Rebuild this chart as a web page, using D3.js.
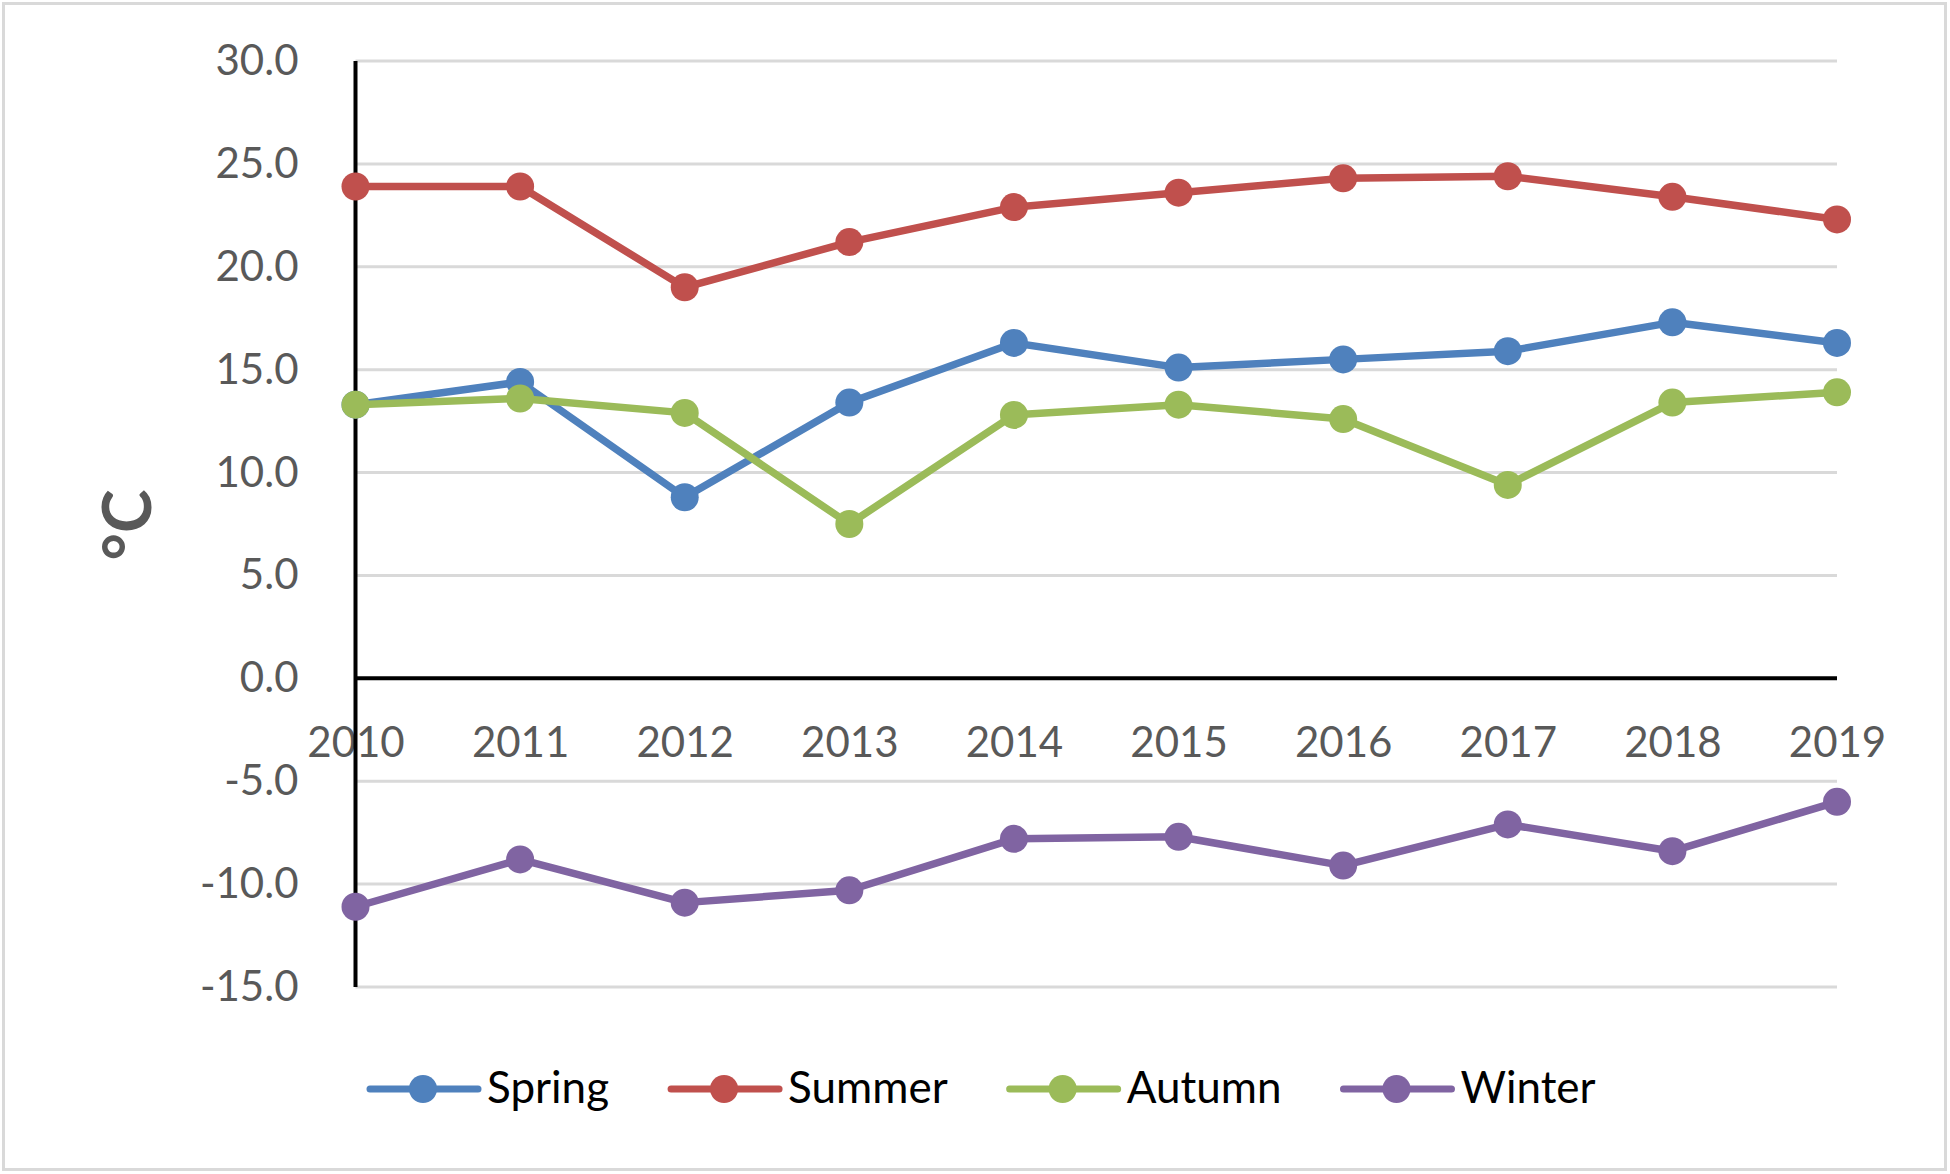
<!DOCTYPE html>
<html>
<head>
<meta charset="utf-8">
<script src="https://cdn.jsdelivr.net/npm/d3@7"></script>
<style>
  body { margin: 0; background: #fff; }
  svg { display: block; }
</style>
</head>
<body>
<svg id="chart" width="1950" height="1174"></svg>
<script>
// data
var years = [2010, 2011, 2012, 2013, 2014, 2015, 2016, 2017, 2018, 2019];
var spring = [13.3, 14.4, 8.8, 13.4, 16.3, 15.1, 15.5, 15.9, 17.3, 16.3];
var summer = [23.9, 23.9, 19.0, 21.2, 22.9, 23.6, 24.3, 24.4, 23.4, 22.3];
var autumn = [13.3, 13.6, 12.9, 7.5, 12.8, 13.3, 12.6, 9.4, 13.4, 13.9];
var winter = [-11.1, -8.8, -10.9, -10.3, -7.8, -7.7, -9.1, -7.1, -8.4, -6.0];
var yTicks = [-15, -10, -5, 0, 5, 10, 15, 20, 25, 30];
var seriesNames = ["Spring", "Summer", "Autumn", "Winter"];
var seriesColors = ["#4f81bd", "#c0504d", "#9bbb59", "#8064a2"];

var series = [spring, summer, autumn, winter].map(function(vals, i) {
    return { name: seriesNames[i], color: seriesColors[i], values: vals };
});

var svg = d3.select("#chart");
var font = "Lato, 'Open Sans', sans-serif";

var x = d3.scalePoint().domain(years).range([355.5, 1837]);
var y = d3.scaleLinear().domain([-15, 30]).range([987, 61]);

// chart border
svg.append("rect")
    .attr("x", 3.5).attr("y", 3.5)
    .attr("width", 1942).attr("height", 1166)
    .attr("fill", "#fff")
    .attr("stroke", "#d9d9d9")
    .attr("stroke-width", 3);

// gridlines
svg.append("g")
    .selectAll("line")
    .data(yTicks.filter(function(d) { return d !== 0; }))
    .enter().append("line")
    .attr("x1", x(years[0])).attr("x2", x(years[years.length - 1]))
    .attr("y1", function(d) { return y(d); })
    .attr("y2", function(d) { return y(d); })
    .attr("stroke", "#d9d9d9")
    .attr("stroke-width", 3);

// y tick labels
var yAxis = svg.append("g")
    .attr("transform", "translate(" + x(years[0]) + ",0)")
    .call(d3.axisLeft(y).tickValues(yTicks).tickSize(0).tickPadding(57)
        .tickFormat(function(d) { return d.toFixed(1); }));
yAxis.select(".domain").remove();
yAxis.selectAll("text")
    .attr("font-family", font)
    .attr("font-size", 42)
    .attr("fill", "#595959");

// x tick labels (drawn before the axis line so the line crosses "2010")
var xAxis = svg.append("g")
    .attr("transform", "translate(0,757)")
    .call(d3.axisBottom(x).tickSize(0).tickFormat(d3.format("d")));
xAxis.select(".domain").remove();
xAxis.selectAll("text")
    .attr("y", 0).attr("dy", 0)
    .attr("font-family", font)
    .attr("font-size", 42)
    .attr("fill", "#595959");

// axis lines
svg.append("line")
    .attr("x1", x(years[0])).attr("x2", x(years[years.length - 1]))
    .attr("y1", y(0)).attr("y2", y(0))
    .attr("stroke", "#000").attr("stroke-width", 4);
svg.append("line")
    .attr("x1", x(years[0])).attr("x2", x(years[0]))
    .attr("y1", y(30)).attr("y2", y(-15))
    .attr("stroke", "#000").attr("stroke-width", 4);

// y axis title
svg.append("text")
    .attr("transform", "translate(125,525) rotate(-90)")
    .attr("text-anchor", "middle")
    .attr("dominant-baseline", "central")
    .attr("font-family", font)
    .attr("font-weight", "bold")
    .attr("font-size", 66)
    .attr("fill", "#595959")
    .text("°C");

// series
var line = d3.line()
    .x(function(d, i) { return x(years[i]); })
    .y(function(d) { return y(d); });

var groups = svg.append("g")
    .selectAll("g")
    .data(series)
    .enter().append("g");

groups.append("path")
    .attr("d", function(d) { return line(d.values); })
    .attr("fill", "none")
    .attr("stroke", function(d) { return d.color; })
    .attr("stroke-width", 7.5)
    .attr("stroke-linejoin", "round");

groups.each(function(s) {
    d3.select(this).selectAll("circle")
        .data(s.values)
        .enter().append("circle")
        .attr("cx", function(d, i) { return x(years[i]); })
        .attr("cy", function(d) { return y(d); })
        .attr("r", 14)
        .attr("fill", s.color);
});

// legend
var legend = svg.append("g").attr("transform", "translate(370,1089)");
var items = legend.selectAll("g")
    .data(series)
    .enter().append("g");

items.append("line")
    .attr("x1", 0).attr("x2", 108)
    .attr("y1", 0).attr("y2", 0)
    .attr("stroke", function(d) { return d.color; })
    .attr("stroke-width", 7)
    .attr("stroke-linecap", "round");
items.append("circle")
    .attr("cx", 53).attr("cy", 0).attr("r", 14)
    .attr("fill", function(d) { return d.color; });
items.append("text")
    .attr("x", 117)
    .attr("y", 14)
    .attr("font-family", font)
    .attr("font-size", 44)
    .attr("fill", "#000")
    .text(function(d) { return d.name; });

var pos = 0;
var gap = 62;
items.each(function() {
    var w = 117 + d3.select(this).select("text").node().getComputedTextLength();
    d3.select(this).attr("transform", "translate(" + pos + ",0)");
    pos += w + gap;
});
</script>
</body>
</html>
